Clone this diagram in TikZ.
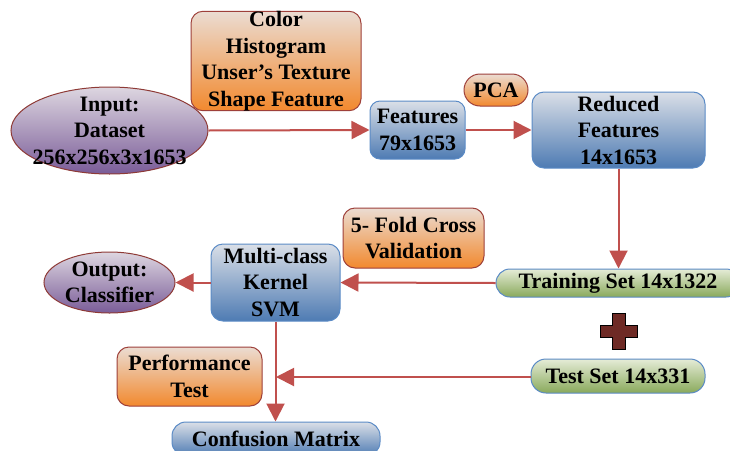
\documentclass[tikz,border=0pt]{standalone}
\usepackage{fontspec}
\setmainfont{Liberation Serif}
\usetikzlibrary{arrows.meta,shapes.geometric}
\definecolor{arr}{HTML}{C0504D}
\definecolor{orTop}{HTML}{EBDCD2}
\definecolor{orBot}{HTML}{F2892E}
\definecolor{orBorder}{HTML}{9E403A}
\definecolor{blTop}{HTML}{DADFE7}
\definecolor{blBot}{HTML}{4E7BB3}
\definecolor{blBorder}{HTML}{5B8BC6}
\definecolor{puTop}{HTML}{DDD6E0}
\definecolor{puBot}{HTML}{7A5C98}
\definecolor{puBorder}{HTML}{8E3A36}
\definecolor{grTop}{HTML}{E5ECD7}
\definecolor{grBot}{HTML}{89A95B}
\definecolor{plusFill}{HTML}{6E2A25}
\begin{document}
\begin{tikzpicture}[x=1pt,y=-1pt,
  txt/.style={align=center, inner sep=0pt, text=black,
    font=\bfseries\fontsize{22}{26.5}\selectfont},
  obox/.style={txt, rounded corners=12pt, draw=orBorder, line width=1pt, top color=orTop, bottom color=orBot},
  bbox/.style={txt, rounded corners=12pt, draw=blBorder, line width=1pt, top color=blTop, bottom color=blBot},
  gbox/.style={txt, rounded corners=14pt, draw=blBorder, line width=1pt, top color=grTop, bottom color=grBot},
  pell/.style={ellipse, inner sep=0pt, draw=puBorder, line width=1pt, top color=puTop, bottom color=puBot},
  conn/.style={draw=arr, line width=2pt, -{Triangle[length=18pt,width=18pt]}}
]
\clip (0,0) rectangle (730,450);
\fill[white] (0,0) rectangle (730,450);

\node[pell, minimum width=197pt, minimum height=87pt,
  label={[txt]center:Input:\\Dataset\\256x256x3x1653}] (in) at (109.5,130.5) {};
\node[obox, minimum width=170pt, minimum height=98pt] (feat) at (276,61) {Color\\Histogram\\Unser’s Texture\\Shape Feature};
\node[bbox, rounded corners=10pt, minimum width=95pt, minimum height=58pt] (f79) at (417.5,130) {Features\\79x1653};
\node[obox, rounded corners=16pt, minimum width=64pt, minimum height=32pt] (pca) at (496,90) {PCA};
\node[bbox, minimum width=173pt, minimum height=76pt] (red) at (618.5,130) {Reduced\\Features\\14x1653};
\node[obox, minimum width=141pt, minimum height=60pt] (cv) at (413.5,238) {5- Fold Cross\\Validation};
\node[gbox, minimum width=244pt, minimum height=28pt] (train) at (618,283) {Training Set 14x1322};
\node[bbox, minimum width=129pt, minimum height=77pt] (svm) at (275.5,282.5) {Multi-class\\Kernel\\SVM};
\node[pell, minimum width=131pt, minimum height=61pt,
  label={[txt]center:Output:\\Classifier}] (out) at (109.5,282.5) {};
\node[gbox, rounded corners=15pt, minimum width=174pt, minimum height=34pt] (test) at (618,376) {Test Set 14x331};
\node[obox, minimum width=145pt, minimum height=59pt] (perf) at (189.5,376.5) {Performance\\Test};
\node[bbox, rounded corners=14pt, minimum width=208pt, minimum height=34pt] (cm) at (276,439) {Confusion Matrix};

% plus sign
\draw[fill=plusFill, draw=black, line width=0.8pt]
  (612,313) -- (625,313) -- (625,325) -- (637,325) -- (637,337) -- (625,337)
  -- (625,349) -- (612,349) -- (612,337) -- (600,337) -- (600,325) -- (612,325) -- cycle;

% connectors
\draw[conn] (in.east) -- (f79.west);
\draw[conn] (f79.east) -- (red.west);
\draw[conn] (red.south) -- (train.north -| red.south);
\draw[conn] (train.west) -- (svm.east);
\draw[conn] (svm.west) -- (out.east);
\draw[conn] (svm.south) -- (cm.north -| svm.south);
\coordinate (jt) at (276,377);
\draw[conn] (test.west |- jt) -- (jt);
\end{tikzpicture}
\end{document}
